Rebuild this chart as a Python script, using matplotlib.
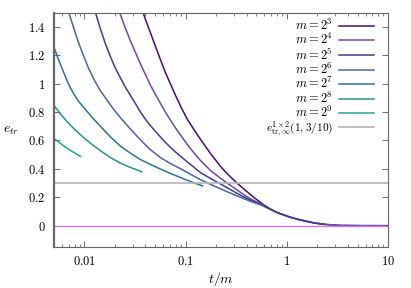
import matplotlib
matplotlib.use("Agg")
import matplotlib.pyplot as plt
from matplotlib.ticker import FixedLocator, LogLocator, NullFormatter

plt.rcParams['mathtext.fontset'] = 'cm'
plt.rcParams['font.family'] = 'DejaVu Serif'

# curves e_tr(t/m), one per m
m3_x = [0.0341, 0.0380, 0.0409, 0.0448, 0.0502, 0.0563, 0.0630, 0.0706, 0.0791, 0.0922,
        0.1039, 0.120, 0.1397, 0.1565, 0.1753, 0.1965, 0.220, 0.2466, 0.2762, 0.3217,
        0.3467, 0.3884, 0.4352, 0.4875, 0.5463, 0.612, 0.686, 0.8226, 0.964, 1.080,
        1.296, 1.579, 1.907, 2.489, 3.366, 5.303, 10]
m3_y = [1.60, 1.50, 1.435, 1.36, 1.265, 1.17, 1.08, 1.00, 0.92, 0.82,
        0.75, 0.68, 0.61, 0.56, 0.51, 0.465, 0.42, 0.38, 0.345, 0.30,
        0.28, 0.25, 0.22, 0.192, 0.165, 0.14, 0.118, 0.09, 0.072, 0.06,
        0.044, 0.03, 0.018, 0.008, 0.002, 0.0003, 0.0]

m4_x = [0.0202, 0.0223, 0.0254, 0.0285, 0.0319, 0.0357, 0.0400, 0.0448, 0.0502, 0.0563,
        0.0630, 0.0706, 0.0791, 0.0922, 0.1039, 0.120, 0.1397, 0.1565, 0.1753, 0.1965,
        0.220, 0.2466, 0.2762, 0.3217, 0.3467, 0.3884, 0.4352, 0.4875, 0.5463, 0.612,
        0.686, 0.8226, 0.964, 1.080, 1.296, 1.579, 1.907, 2.489, 3.366, 5.303, 9.4]
m4_y = [1.59, 1.50, 1.39, 1.30, 1.22, 1.14, 1.065, 0.99, 0.925, 0.862,
        0.80, 0.745, 0.69, 0.623, 0.572, 0.515, 0.46, 0.425, 0.39, 0.362,
        0.335, 0.31, 0.285, 0.252, 0.236, 0.212, 0.19, 0.172, 0.155, 0.135,
        0.117, 0.09, 0.072, 0.06, 0.044, 0.03, 0.018, 0.008, 0.002, 0.0003, 0.0]

m5_x = [0.01173, 0.01284, 0.01439, 0.01612, 0.01806, 0.0202, 0.0227, 0.0254, 0.0285, 0.0319,
        0.0349, 0.0400, 0.0448, 0.0502, 0.0563, 0.0630, 0.0706, 0.0791, 0.0922, 0.1039,
        0.120, 0.1397, 0.1753, 0.220, 0.2762, 0.3467, 0.4352, 0.5463, 0.686, 0.8226,
        0.964, 1.080, 1.296, 1.579, 1.907, 2.34]
m5_y = [1.58, 1.50, 1.385, 1.28, 1.19, 1.11, 1.04, 0.975, 0.917, 0.86,
        0.812, 0.75, 0.705, 0.665, 0.625, 0.587, 0.552, 0.52, 0.48, 0.449,
        0.413, 0.375, 0.333, 0.295, 0.255, 0.215, 0.18, 0.15, 0.115, 0.088,
        0.072, 0.06, 0.044, 0.03, 0.018, 0.009]

m6_x = [0.00635, 0.0070, 0.00797, 0.00873, 0.0100, 0.01095, 0.01284, 0.01439, 0.01725, 0.01978,
        0.0227, 0.0285, 0.0357, 0.0448, 0.0563, 0.0706, 0.0922, 0.120, 0.1397, 0.1753,
        0.220, 0.2762, 0.3467, 0.4352, 0.585]
m6_y = [1.59, 1.50, 1.375, 1.29, 1.18, 1.11, 1.01, 0.95, 0.87, 0.812,
        0.76, 0.68, 0.605, 0.535, 0.48, 0.438, 0.395, 0.35, 0.325, 0.292,
        0.26, 0.23, 0.20, 0.172, 0.14]

m7_x = [0.005, 0.00554, 0.00607, 0.00664, 0.00727, 0.00797, 0.00873, 0.0104, 0.0120, 0.01439,
        0.01806, 0.0227, 0.0285, 0.0357, 0.0491, 0.0706, 0.0993, 0.147]
m7_y = [1.255, 1.17, 1.10, 1.03, 0.97, 0.92, 0.876, 0.812, 0.76, 0.70,
        0.625, 0.56, 0.51, 0.466, 0.418, 0.368, 0.325, 0.28]

m8_x = [0.005, 0.00554, 0.00607, 0.00664, 0.00727, 0.00873, 0.0100, 0.0120, 0.01439, 0.01806,
        0.0227, 0.0285, 0.0368]
m8_y = [0.847, 0.805, 0.77, 0.737, 0.707, 0.653, 0.615, 0.57, 0.528, 0.48,
        0.44, 0.41, 0.38]

m9_x = [0.005, 0.00554, 0.00607, 0.00664, 0.00727, 0.00797, 0.00913]
m9_y = [0.614, 0.59, 0.568, 0.548, 0.53, 0.513, 0.488]

exponents = [3, 4, 5, 6, 7, 8, 9]
curves = [(m3_x, m3_y), (m4_x, m4_y), (m5_x, m5_y), (m6_x, m6_y),
          (m7_x, m7_y), (m8_x, m8_y), (m9_x, m9_y)]
colors = ['#4b0c6b', '#6c4ba8', '#3e3d8a', '#47679f', '#2e7196', '#2a9090', '#23a38a']

e_inf = 0.3
x_ticks = [0.01, 0.1, 1, 10]
x_ticklabels = ['0.01', '0.1', '1', '10']
y_ticks = [0, 0.2, 0.4, 0.6, 0.8, 1.0, 1.2, 1.4]
y_ticklabels = ['0', '0.2', '0.4', '0.6', '0.8', '1', '1.2', '1.4']

fig = plt.figure(figsize=(4.11, 2.88), dpi=100)
ax = fig.add_axes([0.1314, 0.1424, 0.8126, 0.8136])

for (xs, ys), k, c in zip(curves, exponents, colors):
    ax.plot(xs, ys, color=c, lw=1.1, label=r'$m = 2^{%d}$' % k)

ax.axhline(e_inf, color='#b4b4b4', lw=1.2,
           label=r'$e^{1\times2}_{\mathrm{tr},\infty}(1,3/10)$')
ax.axhline(0, color='#cc77ee', lw=1.0)

ax.set_xscale('log')
ax.set_xlim(0.005, 10)
ax.set_ylim(-0.15, 1.5)

ax.xaxis.set_major_locator(FixedLocator(x_ticks))
ax.set_xticklabels(['$%s$' % s for s in x_ticklabels])
ax.xaxis.set_minor_locator(LogLocator(base=10, subs=range(2, 10)))
ax.xaxis.set_minor_formatter(NullFormatter())
ax.set_yticks(y_ticks)
ax.set_yticklabels(['$%s$' % s for s in y_ticklabels])

ax.tick_params(which='both', direction='in', top=True, right=True,
               labelsize=9, color='#555555')
ax.tick_params(which='major', length=4, width=0.6)
ax.tick_params(which='minor', length=2, width=0.5)
ax.tick_params(axis='x', pad=6)
ax.tick_params(axis='y', pad=6)

for side, sp in ax.spines.items():
    sp.set_color('#666666')
    sp.set_linewidth(0.8)
ax.spines['left'].set_linewidth(1.6)

ax.set_xlabel('$t/m$', fontsize=10, labelpad=1)
ax.set_ylabel('$e_{tr}$', fontsize=10, rotation=0, labelpad=12, va='center')

leg = ax.legend(loc='upper right', bbox_to_anchor=(0.957, 0.978), frameon=False,
                markerfirst=False, fontsize=9, handlelength=2.75, handletextpad=0.5,
                labelspacing=-0.05, borderaxespad=0.0, borderpad=0.0)
# the e_inf entry is set a bit smaller, like in the original
leg.get_texts()[-1].set_fontsize(8.2)

fig.savefig('out.png', dpi=100)
